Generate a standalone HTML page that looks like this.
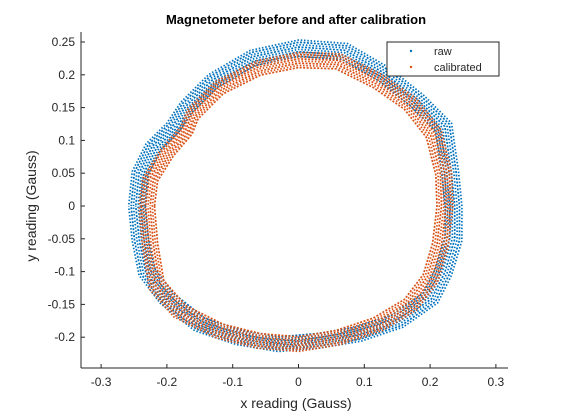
<!DOCTYPE html>
<html><head><meta charset="utf-8"><style>
body{margin:0;background:#fff}
svg text{font-family:"Liberation Sans",sans-serif;fill:#262626}
</style></head><body>
<svg id="chart" width="570" height="415" viewBox="0 0 570 415">
<rect width="570" height="415" fill="#fff"/>
<g id="plot"></g>
<g id="axes"></g>
<text x="296" y="24" text-anchor="middle" font-size="13" font-weight="bold" style="fill:#000">Magnetometer before and after calibration</text>
<text x="296" y="408" text-anchor="middle" font-size="14">x reading (Gauss)</text>
<text transform="translate(36,206) rotate(-90)" text-anchor="middle" font-size="14">y reading (Gauss)</text>
<g>
<rect x="387" y="42" width="112" height="34" fill="#fff" stroke="#262626" stroke-width="1"/>
<circle cx="411" cy="51" r="1.2" fill="#0072BD"/>
<text x="434" y="55" font-size="11">raw</text>
<circle cx="411" cy="67" r="1.2" fill="#D95319"/>
<text x="434" y="71" font-size="11">calibrated</text>
</g>
</svg>
<script>
const rawX=[-0.245,-0.24,-0.22,-0.19,-0.17,-0.13,-0.07,0,0.07,0.13,0.18,0.22,0.23,0.235,0.235,0.22,0.2,0.15,0.09,0.03,-0.03,-0.09,-0.15,-0.2,-0.23,-0.24];
const rawY=[0,0.05,0.09,0.12,0.15,0.19,0.225,0.24,0.235,0.2,0.16,0.12,0.05,0,-0.05,-0.1,-0.14,-0.175,-0.195,-0.205,-0.21,-0.2,-0.18,-0.14,-0.1,-0.05];
const calX=[-0.23,-0.225,-0.2,-0.17,-0.16,-0.12,-0.06,0,0.06,0.12,0.17,0.205,0.22,0.222,0.215,0.2,0.17,0.12,0.06,0,-0.06,-0.12,-0.18,-0.215,-0.225];
const calY=[0,0.04,0.08,0.115,0.14,0.18,0.21,0.222,0.22,0.19,0.155,0.11,0.05,0,-0.06,-0.11,-0.15,-0.18,-0.2,-0.21,-0.205,-0.19,-0.16,-0.12,-0.06];
const xTicks=[-0.3,-0.2,-0.1,0,0.1,0.2,0.3];
const yTicks=[0.25,0.2,0.15,0.1,0.05,0,-0.05,-0.1,-0.15,-0.2];
const yTickLabels=["0.25","0.2","0.15","0.1","0.05","0","-0.05","-0.1","-0.15","-0.2"];
const L=81,R=508,T=32,B=368;
const sx=v=>298.5+v*658, sy=v=>206-v*656;
const NS="http://www.w3.org/2000/svg";
const plot=document.getElementById('plot'), axes=document.getElementById('axes');
function series(xs,ys,color,name){
  const cx=xs.reduce((a,b)=>a+b,0)/xs.length, cy=ys.reduce((a,b)=>a+b,0)/ys.length;
  [0.95,0.965,0.98,0.995,1.01,1.025,1.04,1.055].forEach((s,k)=>{
    let d='';
    xs.forEach((x,i)=>{const px=sx(cx+(x-cx)*s),py=sy(cy+(ys[i]-cy)*s);d+=(i?'L':'M')+px.toFixed(1)+' '+py.toFixed(1);});
    d+='Z';
    const p=document.createElementNS(NS,'path');
    p.setAttribute('d',d);p.setAttribute('fill','none');p.setAttribute('stroke',color);
    p.setAttribute('stroke-width','1.7');p.setAttribute('stroke-dasharray',k%2?'1.5 1.8':'2 1.5');
    p.setAttribute('stroke-dashoffset',k*0.7);
    
    
    plot.appendChild(p);
  });
}
series(rawX,rawY,'#0072BD','raw-series');
series(calX,calY,'#D95319','calibrated-series');
function line(x1,y1,x2,y2,name){const l=document.createElementNS(NS,'line');
  l.setAttribute('x1',x1);l.setAttribute('y1',y1);l.setAttribute('x2',x2);l.setAttribute('y2',y2);
  l.setAttribute('stroke','#262626');l.setAttribute('stroke-width','1');
  
  
  axes.appendChild(l);}
line(L,T,L,B,'y-axis-line');line(L,B,R,B,'x-axis-line');
function txt(x,y,s,anchor,name){const t=document.createElementNS(NS,'text');
  t.setAttribute('x',x);t.setAttribute('y',y);t.setAttribute('text-anchor',anchor);t.setAttribute('font-size','12');t.textContent=s;
  
  
  axes.appendChild(t);}
xTicks.forEach(v=>{const x=sx(v);line(x,B,x,B-4,'x-tick');txt(x,386,String(v),'middle','x-tick-label');});
yTicks.forEach((v,i)=>{const y=sy(v);line(L,y,L+4,y,'y-tick');txt(L-6,y+4,yTickLabels[i],'end','y-tick-label');});
</script>
</body></html>
